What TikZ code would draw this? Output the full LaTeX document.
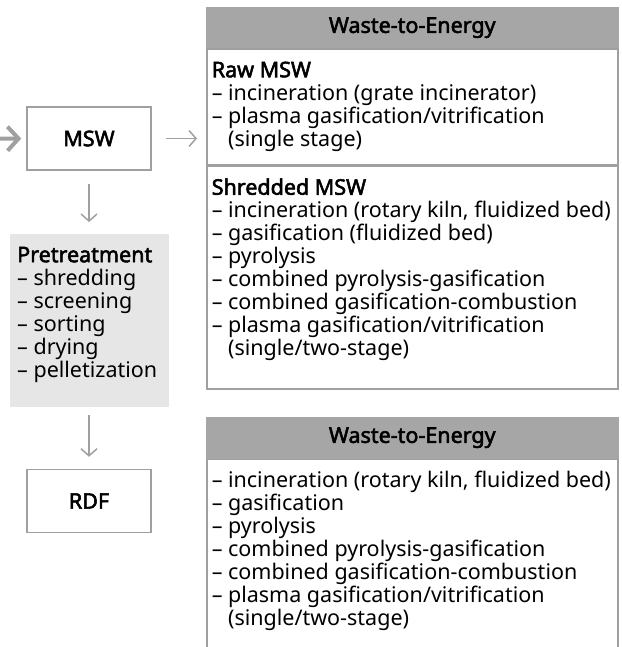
\documentclass[tikz,border=0pt]{standalone}
\usepackage{fontspec}
\setmainfont{Noto Sans}[BoldFont={Noto Sans}, BoldFeatures={FakeBold=2.5}]
\usetikzlibrary{positioning,arrows.meta}
\definecolor{boxline}{RGB}{160,160,160}
\definecolor{headfill}{RGB}{166,166,166}
\definecolor{prefill}{RGB}{230,230,230}
\newcommand{\bodyfont}{\fontsize{21.5pt}{23pt}\selectfont}
\newcommand{\listbox}[3]{\parbox[c][#1][t]{#2}{\raggedright\rule{0pt}{28pt}#3}}
\tikzset{
    >={Straight Barb[length=7pt,width=16pt]},
    stage/.style={rectangle, draw=boxline, line width=1.5pt, align=center, minimum width=124pt, minimum height=63pt, font=\bodyfont\bfseries},
    wtehead/.style={rectangle, draw=headfill, fill=headfill, line width=1.5pt, minimum width=411pt, minimum height=40pt, inner sep=0pt, font=\bodyfont\bfseries},
    wtesec/.style={rectangle, draw=boxline, line width=1.5pt, inner xsep=5pt, inner ysep=0pt},
    pretreat/.style={rectangle, fill=prefill, inner xsep=7pt, inner ysep=0pt},
    flow/.style={->, draw=boxline, line width=1.5pt},
    feed/.style={-{Straight Barb[length=11pt,width=24pt]}, draw=boxline, line width=4pt}
}
\begin{document}
\begin{tikzpicture}[x=1pt, y=-1pt, font=\bodyfont]
    \useasboundingbox (0,0) rectangle (621,647);
    \clip (0,0) rectangle (621,647);
    % left column
    \node[stage] (msw) at (89,138.5) {MSW};
    \node[pretreat, anchor=north west] (pre) at (10,234) {\listbox{173pt}{145pt}{%
        \textbf{Pretreatment}\\
        – shredding\\
        – screening\\
        – sorting\\
        – drying\\
        – pelletization}};
    \node[stage] (rdf) at (89,501) {RDF};
    % waste-to-energy, raw and shredded
    \node[wtehead, anchor=north west] (hdrA) at (206,7) {Waste-to-Energy};
    \node[wtesec, below=0pt of hdrA] (rawA) {\listbox{116pt}{401pt}{%
        \textbf{Raw MSW}\\
        – incineration (grate incinerator)\\
        – plasma gasification/vitrification\\
        \phantom{– }(single stage)}};
    \node[wtesec, below=0pt of rawA] (shrA) {\listbox{222pt}{401pt}{%
        \textbf{Shredded MSW}\\
        – incineration (rotary kiln, fluidized bed)\\
        – gasification (fluidized bed)\\
        – pyrolysis\\
        – combined pyrolysis-gasification\\
        – combined gasification-combustion\\
        – plasma gasification/vitrification\\
        \phantom{– }(single/two-stage)}};
    % waste-to-energy, RDF
    \node[wtehead, anchor=north west] (hdrB) at (206,417) {Waste-to-Energy};
    \node[wtesec, below=0pt of hdrB] (rdfB) {\listbox{210pt}{401pt}{%
        – incineration (rotary kiln, fluidized bed)\\
        – gasification\\
        – pyrolysis\\
        – combined pyrolysis-gasification\\
        – combined gasification-combustion\\
        – plasma gasification/vitrification\\
        \phantom{– }(single/two-stage)}};
    % arrows
    \coordinate (feedin) at (-30,139);
    \draw[feed, shorten >=5pt] (feedin) -- (msw.west);
    \draw[flow, shorten <=14pt, shorten >=9pt] (msw.east) -- (msw.east -| rawA.west);
    \draw[flow, shorten <=13pt, shorten >=12pt] (msw) -- (pre.north -| msw);
    \draw[flow, shorten <=8pt, shorten >=12pt] (pre.south -| msw) -- (rdf);
\end{tikzpicture}
\end{document}
